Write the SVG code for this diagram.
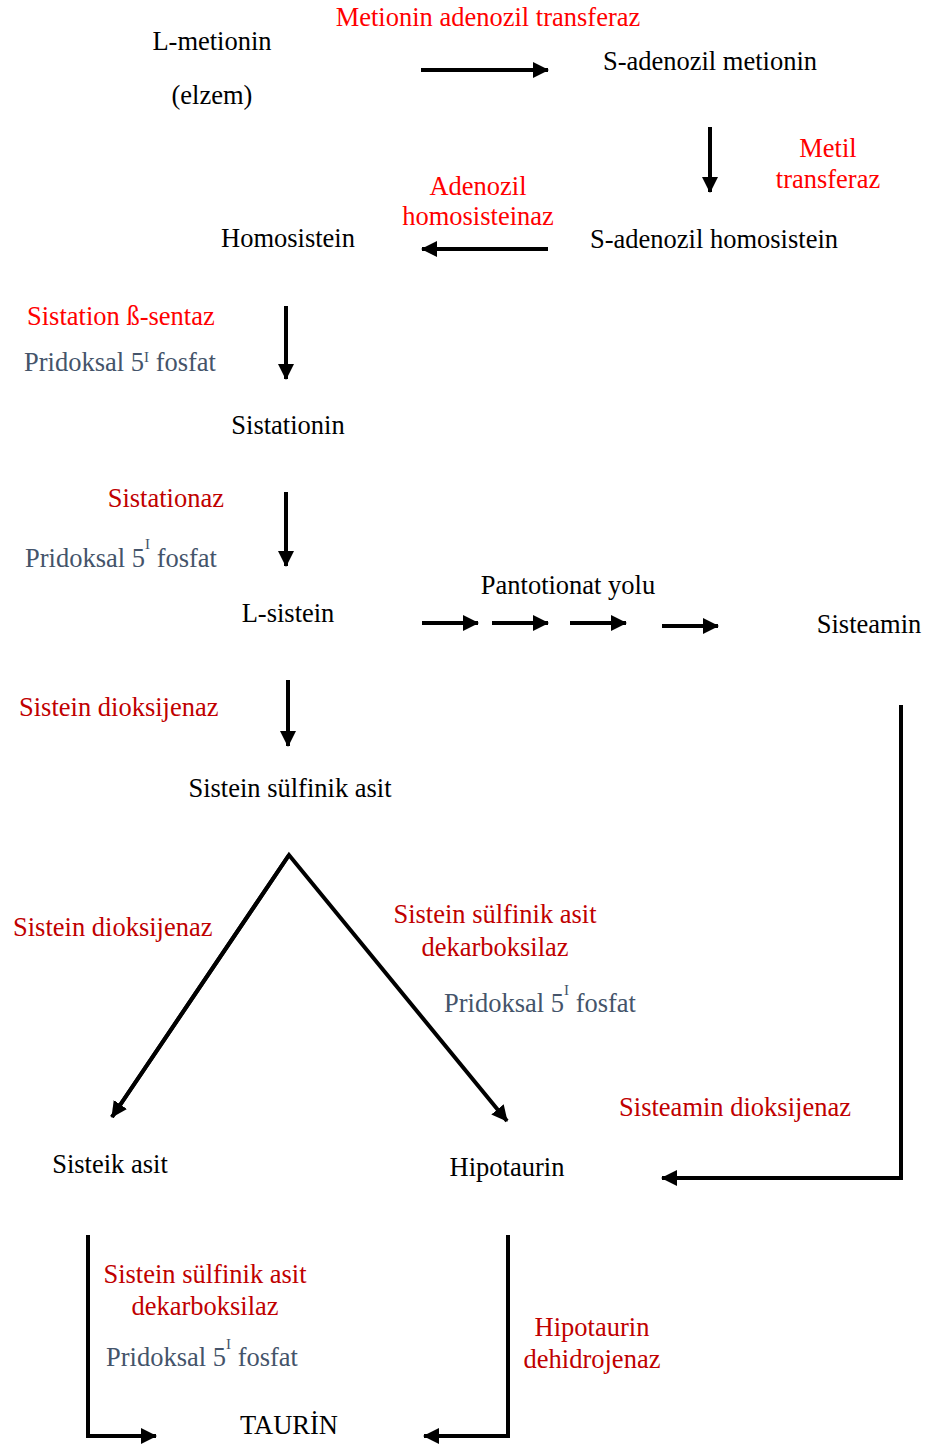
<svg xmlns="http://www.w3.org/2000/svg" width="935" height="1447" viewBox="0 0 935 1447">
<style>
text{font-family:"Liberation Serif","Times New Roman",serif;font-size:26.5px;fill:#000}
.r{fill:#FF0000}
.d{fill:#C00000}
.g{fill:#44546A}
.sup{font-size:15px}
.c{stroke:#000;stroke-width:4;fill:none}
</style>
<defs>
<marker id="ah" markerUnits="userSpaceOnUse" markerWidth="18" markerHeight="18" refX="15" refY="8" orient="auto">
<path d="M0,0 L16,8 L0,16 Z" fill="#000"/>
</marker>
</defs>
<rect width="935" height="1447" fill="#fff"/>
<g id="connectors">
<line class="c" x1="421" y1="70" x2="548" y2="70" marker-end="url(#ah)"/>
<line class="c" x1="710" y1="127" x2="710" y2="192" marker-end="url(#ah)"/>
<line class="c" x1="548" y1="249" x2="422" y2="249" marker-end="url(#ah)"/>
<line class="c" x1="286" y1="306" x2="286" y2="379" marker-end="url(#ah)"/>
<line class="c" x1="286" y1="492" x2="286" y2="566" marker-end="url(#ah)"/>
<line class="c" x1="422" y1="623" x2="478" y2="623" marker-end="url(#ah)"/>
<line class="c" x1="492" y1="623" x2="548" y2="623" marker-end="url(#ah)"/>
<line class="c" x1="570" y1="623" x2="626" y2="623" marker-end="url(#ah)"/>
<line class="c" x1="662" y1="626" x2="718" y2="626" marker-end="url(#ah)"/>
<line class="c" x1="288" y1="680" x2="288" y2="746" marker-end="url(#ah)"/>
<polyline class="c" points="112,1117 289,855 507,1121" marker-end="url(#ah)"/>
<line class="c" x1="289" y1="855" x2="112" y2="1117" marker-end="url(#ah)"/>
<polyline class="c" points="901,705 901,1178 662,1178" marker-end="url(#ah)"/>
<polyline class="c" points="88,1235 88,1436 156,1436" marker-end="url(#ah)"/>
<polyline class="c" points="508,1235 508,1436 424,1436" marker-end="url(#ah)"/>
</g>
<g id="n-lmetionin"><text x="212" y="50" text-anchor="middle">L-metionin</text><text x="212" y="104" text-anchor="middle">(elzem)</text></g>
<g id="e-mat"><text class="r" x="488" y="26" text-anchor="middle">Metionin adenozil transferaz</text></g>
<g id="n-sam"><text x="710" y="70" text-anchor="middle">S-adenozil metionin</text></g>
<g id="e-mt"><text class="r" x="828" y="157" text-anchor="middle">Metil</text><text class="r" x="828" y="188" text-anchor="middle">transferaz</text></g>
<g id="e-ah"><text class="r" x="478" y="195" text-anchor="middle">Adenozil</text><text class="r" x="478" y="225" text-anchor="middle">homosisteinaz</text></g>
<g id="n-homosistein"><text x="288" y="247" text-anchor="middle">Homosistein</text></g>
<g id="n-sah"><text x="714" y="248" text-anchor="middle">S-adenozil homosistein</text></g>
<g id="e-cbs"><text class="r" x="27" y="325">Sistation ß-sentaz</text><text class="g" x="24" y="371">Pridoksal 5<tspan class="sup" dy="-9">I</tspan><tspan dy="9"> fosfat</tspan></text></g>
<g id="n-sistationin"><text x="288" y="434" text-anchor="middle">Sistationin</text></g>
<g id="e-cse"><text class="d" x="224" y="507" text-anchor="end">Sistationaz</text><text class="g" x="25" y="567">Pridoksal 5<tspan class="sup" dy="-18">I</tspan><tspan dy="18"> fosfat</tspan></text></g>
<g id="n-lsistein"><text x="288" y="622" text-anchor="middle">L-sistein</text></g>
<g id="e-panto"><text x="568" y="594" text-anchor="middle">Pantotionat yolu</text></g>
<g id="n-sisteamin"><text x="869" y="633" text-anchor="middle">Sisteamin</text></g>
<g id="e-cdo"><text class="d" x="19" y="716">Sistein dioksijenaz</text></g>
<g id="n-csa"><text x="290" y="797" text-anchor="middle">Sistein sülfinik asit</text></g>
<g id="e-cdo2"><text class="d" x="13" y="936">Sistein dioksijenaz</text></g>
<g id="e-csad"><text class="d" x="495" y="923" text-anchor="middle">Sistein sülfinik asit</text><text class="d" x="495" y="956" text-anchor="middle">dekarboksilaz</text><text class="g" x="444" y="1012">Pridoksal 5<tspan class="sup" dy="-17">I</tspan><tspan dy="17"> fosfat</tspan></text></g>
<g id="e-ado"><text class="d" x="735" y="1116" text-anchor="middle">Sisteamin dioksijenaz</text></g>
<g id="n-sisteik"><text x="110" y="1173" text-anchor="middle">Sisteik asit</text></g>
<g id="n-hipotaurin"><text x="507" y="1176" text-anchor="middle">Hipotaurin</text></g>
<g id="e-csad2"><text class="d" x="205" y="1283" text-anchor="middle">Sistein sülfinik asit</text><text class="d" x="205" y="1315" text-anchor="middle">dekarboksilaz</text><text class="g" x="106" y="1366">Pridoksal 5<tspan class="sup" dy="-17">I</tspan><tspan dy="17"> fosfat</tspan></text></g>
<g id="e-hd"><text class="d" x="592" y="1336" text-anchor="middle">Hipotaurin</text><text class="d" x="592" y="1368" text-anchor="middle">dehidrojenaz</text></g>
<g id="n-taurin"><text x="289" y="1434" text-anchor="middle">TAURİN</text></g>
</svg>
